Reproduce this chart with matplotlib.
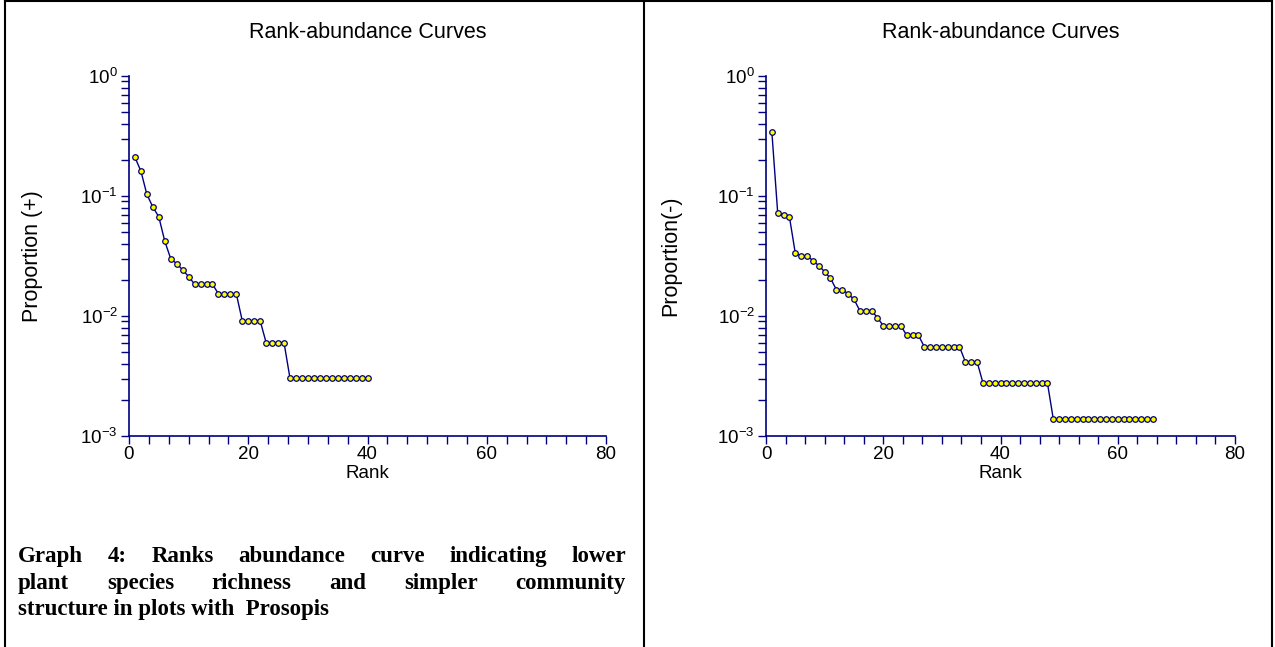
import matplotlib
matplotlib.use("Agg")
import matplotlib.pyplot as plt
import numpy as np
from matplotlib.lines import Line2D
from matplotlib.ticker import LogLocator, MultipleLocator, NullFormatter

plt.rcParams["font.family"] = ["Liberation Sans", "DejaVu Sans"]
plt.rcParams["mathtext.fontset"] = "custom"
plt.rcParams["mathtext.rm"] = "Liberation Sans"
plt.rcParams["mathtext.it"] = "Liberation Sans:italic"
plt.rcParams["mathtext.bf"] = "Liberation Sans:bold"

W, H = 1275, 647
NAVY = "#000080"

# plots with Prosopis (+)
prop_plus = [0.21, 0.161, 0.103, 0.081, 0.067, 0.042, 0.030, 0.0273, 0.0242, 0.0213,
             0.0184, 0.0184, 0.0184, 0.0184, 0.0153, 0.0153, 0.0153, 0.0153,
             0.0091, 0.0091, 0.0091, 0.0091, 0.0060, 0.0060, 0.0060, 0.0060,
             0.00303, 0.00303, 0.00303, 0.00303, 0.00303, 0.00303, 0.00303,
             0.00303, 0.00303, 0.00303, 0.00303, 0.00303, 0.00303, 0.00303]

# plots without Prosopis (-)
prop_minus = [0.341, 0.0718, 0.0695, 0.0668, 0.0333, 0.0318, 0.0318, 0.0289, 0.0263,
              0.0234, 0.0206, 0.0166, 0.0166, 0.0153, 0.0138,
              0.0111, 0.0111, 0.0111, 0.0097, 0.0083, 0.0083, 0.0083, 0.0083,
              0.0069, 0.0069, 0.0069,
              0.00555, 0.00555, 0.00555, 0.00555, 0.00555, 0.00555, 0.00555,
              0.00416, 0.00416, 0.00416,
              0.00278, 0.00278, 0.00278, 0.00278, 0.00278, 0.00278,
              0.00278, 0.00278, 0.00278, 0.00278, 0.00278, 0.00278,
              0.00139, 0.00139, 0.00139, 0.00139, 0.00139, 0.00139,
              0.00139, 0.00139, 0.00139, 0.00139, 0.00139, 0.00139,
              0.00139, 0.00139, 0.00139, 0.00139, 0.00139, 0.00139]

panel_title = "Rank-abundance Curves"
ylabels = ["Proportion (+)", "Proportion(-)"]
caption_lines = ["Graph 4: Ranks abundance curve indicating lower",
                 "plant species richness and simpler community",
                 "structure in plots with  Prosopis"]

fig = plt.figure(figsize=(W / 100, H / 100), dpi=100)


def px_axes(x0, x1, y_top, y_bot):
    return fig.add_axes([x0 / W, 1 - y_bot / H, (x1 - x0) / W, (y_bot - y_top) / H])


def draw_panel(ax, values, ylabel):
    ranks = np.arange(1, len(values) + 1)
    ax.plot(ranks, values, "-", color=NAVY, lw=1.0, marker="o", ms=4.0,
            mfc="#ffff00", mec=NAVY, mew=0.9)
    ax.set_yscale("log")
    ax.set_xlim(0, 80)
    ax.set_ylim(1e-3, 1)
    ax.yaxis.set_major_locator(LogLocator(base=10, numticks=10))
    ax.yaxis.set_minor_locator(LogLocator(base=10, subs=np.arange(2, 10), numticks=10))
    ax.yaxis.set_minor_formatter(NullFormatter())
    ax.xaxis.set_major_locator(MultipleLocator(20))
    ax.xaxis.set_minor_locator(MultipleLocator(20 / 6))
    for side in ("top", "right"):
        ax.spines[side].set_visible(False)
    for side in ("left", "bottom"):
        ax.spines[side].set_color(NAVY)
        ax.spines[side].set_linewidth(1.2)
    ax.tick_params(which="both", direction="out", color=NAVY, width=1.0,
                   labelsize=13.5, labelcolor="black")
    ax.tick_params(axis="y", which="both", length=6, pad=2)
    ax.tick_params(axis="x", which="both", length=6, pad=1)
    ax.set_xlabel("Rank", fontsize=13.5)
    ax.xaxis.set_label_coords(0.5, -0.08)
    ax.set_ylabel(ylabel, fontsize=15.5)
    ax.yaxis.set_label_coords(-0.18, 0.5)
    ax.patch.set_visible(False)


ax1 = px_axes(129, 606, 76, 436)
draw_panel(ax1, prop_plus, ylabels[0])
ax2 = px_axes(766, 1235, 76, 436)
draw_panel(ax2, prop_minus, ylabels[1])

for ax in (ax1, ax2):
    ax.text(0.5, 1 + 43 / 360, panel_title, transform=ax.transAxes,
            ha="center", va="center", fontsize=15.5)

# table borders
lw_border = 1.5
for (xa, ya, xb, yb) in [(5, 1, 1272, 1), (5, 1, 5, 647), (644, 1, 644, 647),
                         (1272, 1, 1272, 647)]:
    fig.add_artist(Line2D([xa / W, xb / W], [1 - ya / H, 1 - yb / H],
                          color="black", lw=lw_border, transform=fig.transFigure))

# justified bold caption
cap_font = dict(family=["Liberation Serif", "DejaVu Serif"], weight="bold", size=16.5)
x_left, x_right = 18, 626
baselines = [562, 589, 615]
renderer = fig.canvas.get_renderer()
for i, line in enumerate(caption_lines):
    yb = 1 - baselines[i] / H
    if i == len(caption_lines) - 1:
        fig.text(x_left / W, yb, line, ha="left", va="baseline", **cap_font)
        continue
    words = line.split()
    texts = [fig.text(0, yb, w, ha="left", va="baseline", **cap_font) for w in words]
    widths = [t.get_window_extent(renderer).width for t in texts]
    gap = (x_right - x_left - sum(widths)) / (len(words) - 1)
    x = x_left
    for t, w in zip(texts, widths):
        t.set_x(x / W)
        x += w + gap

fig.savefig("out.png", dpi=100)
